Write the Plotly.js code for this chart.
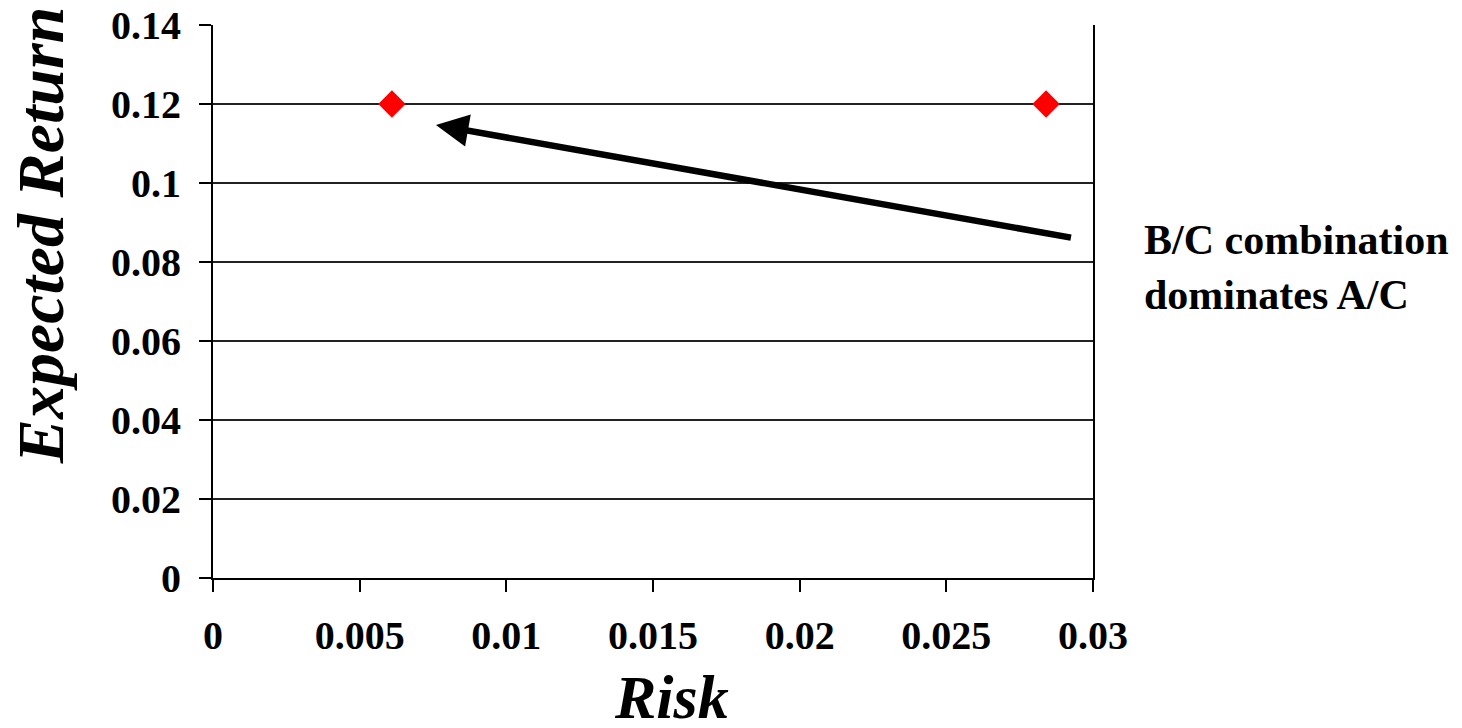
<!DOCTYPE html>
<html>
<head>
<meta charset="utf-8">
<script src="https://cdn.plot.ly/plotly-3.0.1.min.js"></script>
<style>html,body{margin:0;padding:0;background:#fff}#chart{width:1462px;height:728px}</style>
</head>
<body>
<div id="chart"></div>
<script>
// Data
const riskValues = [0.0061, 0.0284];
const returnValues = [0.12, 0.12];
const xTickVals = [0, 0.005, 0.01, 0.015, 0.02, 0.025, 0.03];
const xTickText = ['0', '0.005', '0.01', '0.015', '0.02', '0.025', '0.03'];
const yTickVals = [0, 0.02, 0.04, 0.06, 0.08, 0.1, 0.12, 0.14];
const yTickText = ['0', '0.02', '0.04', '0.06', '0.08', '0.1', '0.12', '0.14'];
const arrowTail = [0.0293, 0.0861];
const arrowHead = [0.0076, 0.1147];
const noteText = 'B/C combination<br>dominates A/C';
const xTitle = 'Risk';
const yTitle = 'Expected Return';

const FONT = '"Liberation Serif", "Times New Roman", serif';

const trace = {
  x: riskValues,
  y: returnValues,
  type: 'scatter',
  mode: 'markers',
  marker: {symbol: 'diamond', color: '#ff0000', size: 21, line: {width: 0}},
  hoverinfo: 'x+y'
};

const layout = {
  width: 1462,
  height: 728,
  margin: {l: 213, r: 369, t: 25, b: 150},
  paper_bgcolor: '#ffffff',
  plot_bgcolor: '#ffffff',
  showlegend: false,
  font: {family: FONT, color: '#000', size: 40, weight: 'bold'},
  xaxis: {
    range: [0, 0.03],
    tickvals: xTickVals,
    ticktext: xTickText,
    ticks: 'outside',
    ticklen: 12,
    tickwidth: 2,
    tickcolor: '#000',
    showline: true,
    linecolor: '#000',
    linewidth: 2,
    mirror: false,
    showgrid: false,
    zeroline: false,
    ticklabelstandoff: 9,
    tickfont: {family: FONT, size: 40, color: '#000', weight: 'bold'}
  },
  yaxis: {
    range: [0, 0.14],
    tickvals: yTickVals,
    ticktext: yTickText,
    ticks: 'outside',
    ticklen: 12,
    tickwidth: 2,
    tickcolor: '#000',
    showline: true,
    linecolor: '#000',
    linewidth: 2,
    mirror: true,
    showgrid: true,
    gridcolor: '#222',
    gridwidth: 1.5,
    zeroline: false,
    ticklabelstandoff: 10,
    tickfont: {family: FONT, size: 40, color: '#000', weight: 'bold'}
  },
  annotations: [
    {
      x: arrowHead[0], y: arrowHead[1], xref: 'x', yref: 'y',
      ax: arrowTail[0], ay: arrowTail[1], axref: 'x', ayref: 'y',
      text: '', showarrow: true, arrowhead: 2, arrowsize: 1, arrowwidth: 6.5, arrowcolor: '#000'
    },
    {
      x: 1.0557, y: 0.5606, xref: 'paper', yref: 'paper',
      xanchor: 'left', yanchor: 'middle', align: 'left',
      text: noteText, showarrow: false,
      font: {family: FONT, size: 42, color: '#000', weight: 'bold'}
    },
    {
      x: 0.5205, y: -0.216, xref: 'paper', yref: 'paper',
      xanchor: 'center', yanchor: 'middle',
      text: xTitle, showarrow: false,
      font: {family: FONT, size: 62, color: '#000', weight: 'bold', style: 'italic'}
    },
    {
      x: -0.1966, y: 0.620, xref: 'paper', yref: 'paper',
      xanchor: 'center', yanchor: 'middle', textangle: -90,
      text: yTitle, showarrow: false,
      font: {family: FONT, size: 66, color: '#000', weight: 'bold', style: 'italic'}
    }
  ]
};

Plotly.newPlot('chart', [trace], layout, {displayModeBar: false, staticPlot: true});
</script>
</body>
</html>
